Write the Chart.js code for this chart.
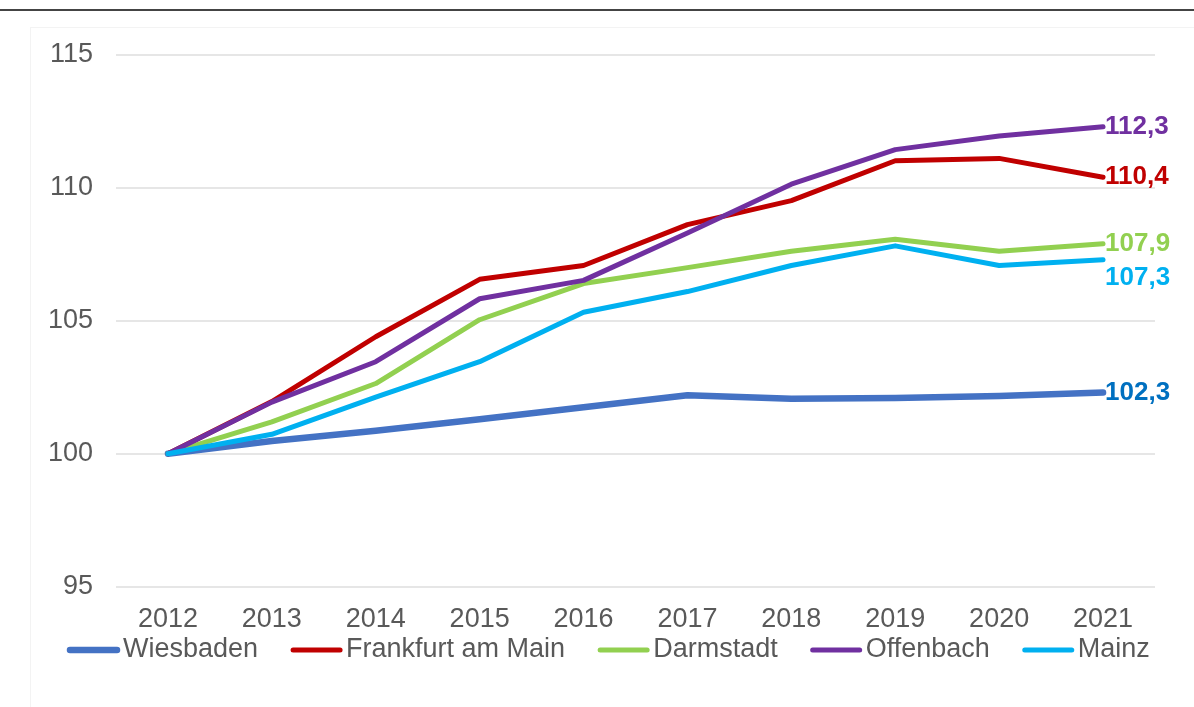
<!DOCTYPE html>
<html>
<head>
<meta charset="utf-8">
<script src="https://cdn.jsdelivr.net/npm/chart.js@4"></script>
<style>
  html, body { margin: 0; padding: 0; background: #fff; }
  .frame { position: relative; width: 1194px; height: 707px; overflow: hidden; }
  .topline { position: absolute; left: 0; top: 9px; width: 1194px; height: 0; border-top: 2px solid #444; }
  .panel { position: absolute; left: 30px; top: 27px; width: 1200px; height: 700px; border-left: 1px solid #f3f3f3; border-top: 1px solid #f3f3f3; }
  canvas { position: absolute; left: 0; top: 0; }
</style>
</head>
<body>
<div class="frame">
  <div class="topline"></div>
  <div class="panel"></div>
  <canvas id="indexChart" width="1194" height="707"></canvas>
</div>
<script>
// Index 2012 = 100
const years = ['2012', '2013', '2014', '2015', '2016', '2017', '2018', '2019', '2020', '2021'];
const wiesbaden = [100, 100.48, 100.86, 101.3, 101.75, 102.2, 102.07, 102.1, 102.17, 102.3];
const frankfurt = [100, 101.96, 104.4, 106.56, 107.08, 108.62, 109.52, 111.02, 111.11, 110.4];
const darmstadt = [100, 101.2, 102.64, 105.04, 106.4, 107.0, 107.62, 108.07, 107.62, 107.9];
const offenbach = [100, 101.94, 103.46, 105.83, 106.52, 108.3, 110.14, 111.44, 111.95, 112.3];
const mainz = [100, 100.73, 102.13, 103.46, 105.32, 106.1, 107.08, 107.82, 107.08, 107.3];
const endLabels = ['102,3', '110,4', '107,9', '112,3', '107,3'];
const yTicks = [95, 100, 105, 110, 115];

const textGrey = '#595959';
const fontFamily = '"Liberation Sans", Arial, sans-serif';

// end-of-line value labels
const endLabelPlugin = {
    id: 'endLabels',
    afterDatasetsDraw(chart) {
        const ctx = chart.ctx;
        ctx.save();
        ctx.font = 'bold 26px ' + fontFamily;
        ctx.textBaseline = 'middle';
        ctx.textAlign = 'left';
        chart.data.datasets.forEach((ds, i) => {
            const meta = chart.getDatasetMeta(i);
            const last = meta.data[meta.data.length - 1];
            if (!last) return;
            ctx.fillStyle = ds.labelColor;
            ctx.fillText(ds.endLabel, last.x + 2, last.y + (ds.labelDy || 0));
        });
        ctx.restore();
    }
};

// Excel-style legend: short line, text right next to it
const lineLegendPlugin = {
    id: 'lineLegend',
    afterDraw(chart) {
        const ctx = chart.ctx;
        const items = chart.data.datasets.slice().reverse();
        const y = 650;
        let x = 68;
        ctx.save();
        ctx.font = '27px ' + fontFamily;
        ctx.textBaseline = 'middle';
        ctx.textAlign = 'left';
        items.forEach(ds => {
            ctx.strokeStyle = ds.borderColor;
            ctx.lineWidth = ds.borderWidth;
            ctx.lineCap = 'round';
            ctx.beginPath();
            ctx.moveTo(x + 2, y);
            ctx.lineTo(x + 49, y);
            ctx.stroke();
            ctx.fillStyle = textGrey;
            ctx.fillText(ds.label, x + 55, y);
            x += 55 + ctx.measureText(ds.label).width + 33;
        });
        ctx.restore();
    }
};

const initIndexChart = () => {
    const canvas = document.getElementById('indexChart');
    if (!canvas || typeof Chart === 'undefined') return;

    // Mainz first so it is drawn on top; legend goes back to original order
    const datasets = [
        { label: 'Mainz', data: mainz, borderColor: '#00B0F0', borderWidth: 5, endLabel: endLabels[4], labelColor: '#00B0F0', labelDy: 18 },
        { label: 'Offenbach', data: offenbach, borderColor: '#7030A0', borderWidth: 5, endLabel: endLabels[3], labelColor: '#7030A0' },
        { label: 'Darmstadt', data: darmstadt, borderColor: '#92D050', borderWidth: 5, endLabel: endLabels[2], labelColor: '#92D050' },
        { label: 'Frankfurt am Main', data: frankfurt, borderColor: '#C00000', borderWidth: 5, endLabel: endLabels[1], labelColor: '#C00000' },
        { label: 'Wiesbaden', data: wiesbaden, borderColor: '#4472C4', borderWidth: 6.5, endLabel: endLabels[0], labelColor: '#0070C0' }
    ].map(d => Object.assign({
        backgroundColor: d.borderColor,
        pointRadius: 0,
        pointHoverRadius: 0,
        tension: 0,
        fill: false,
        borderCapStyle: 'round',
        borderJoinStyle: 'round'
    }, d));

    new Chart(canvas, {
        type: 'line',
        data: { labels: years, datasets: datasets },
        options: {
            responsive: false,
            animation: false,
            layout: { padding: { top: 55, right: 39, bottom: 62, left: 0 } },
            plugins: {
                tooltip: { enabled: false },
                legend: { display: false }
            },
            scales: {
                x: {
                    offset: true,
                    grid: { display: false },
                    border: { display: false },
                    ticks: {
                        color: textGrey,
                        padding: 9,
                        maxRotation: 0,
                        font: { family: fontFamily, size: 27 }
                    }
                },
                y: {
                    min: 95,
                    max: 115,
                    afterFit: (scale) => { scale.width = 116; },
                    afterBuildTicks: (scale) => { scale.ticks = yTicks.map(v => ({ value: v })); },
                    grid: { color: '#e6e6e6', lineWidth: 2, drawTicks: false },
                    border: { display: false },
                    ticks: {
                        color: textGrey,
                        padding: 23,
                        font: { family: fontFamily, size: 27 }
                    }
                }
            }
        },
        plugins: [endLabelPlugin, lineLegendPlugin]
    });
};

document.addEventListener('DOMContentLoaded', initIndexChart);
</script>
</body>
</html>
